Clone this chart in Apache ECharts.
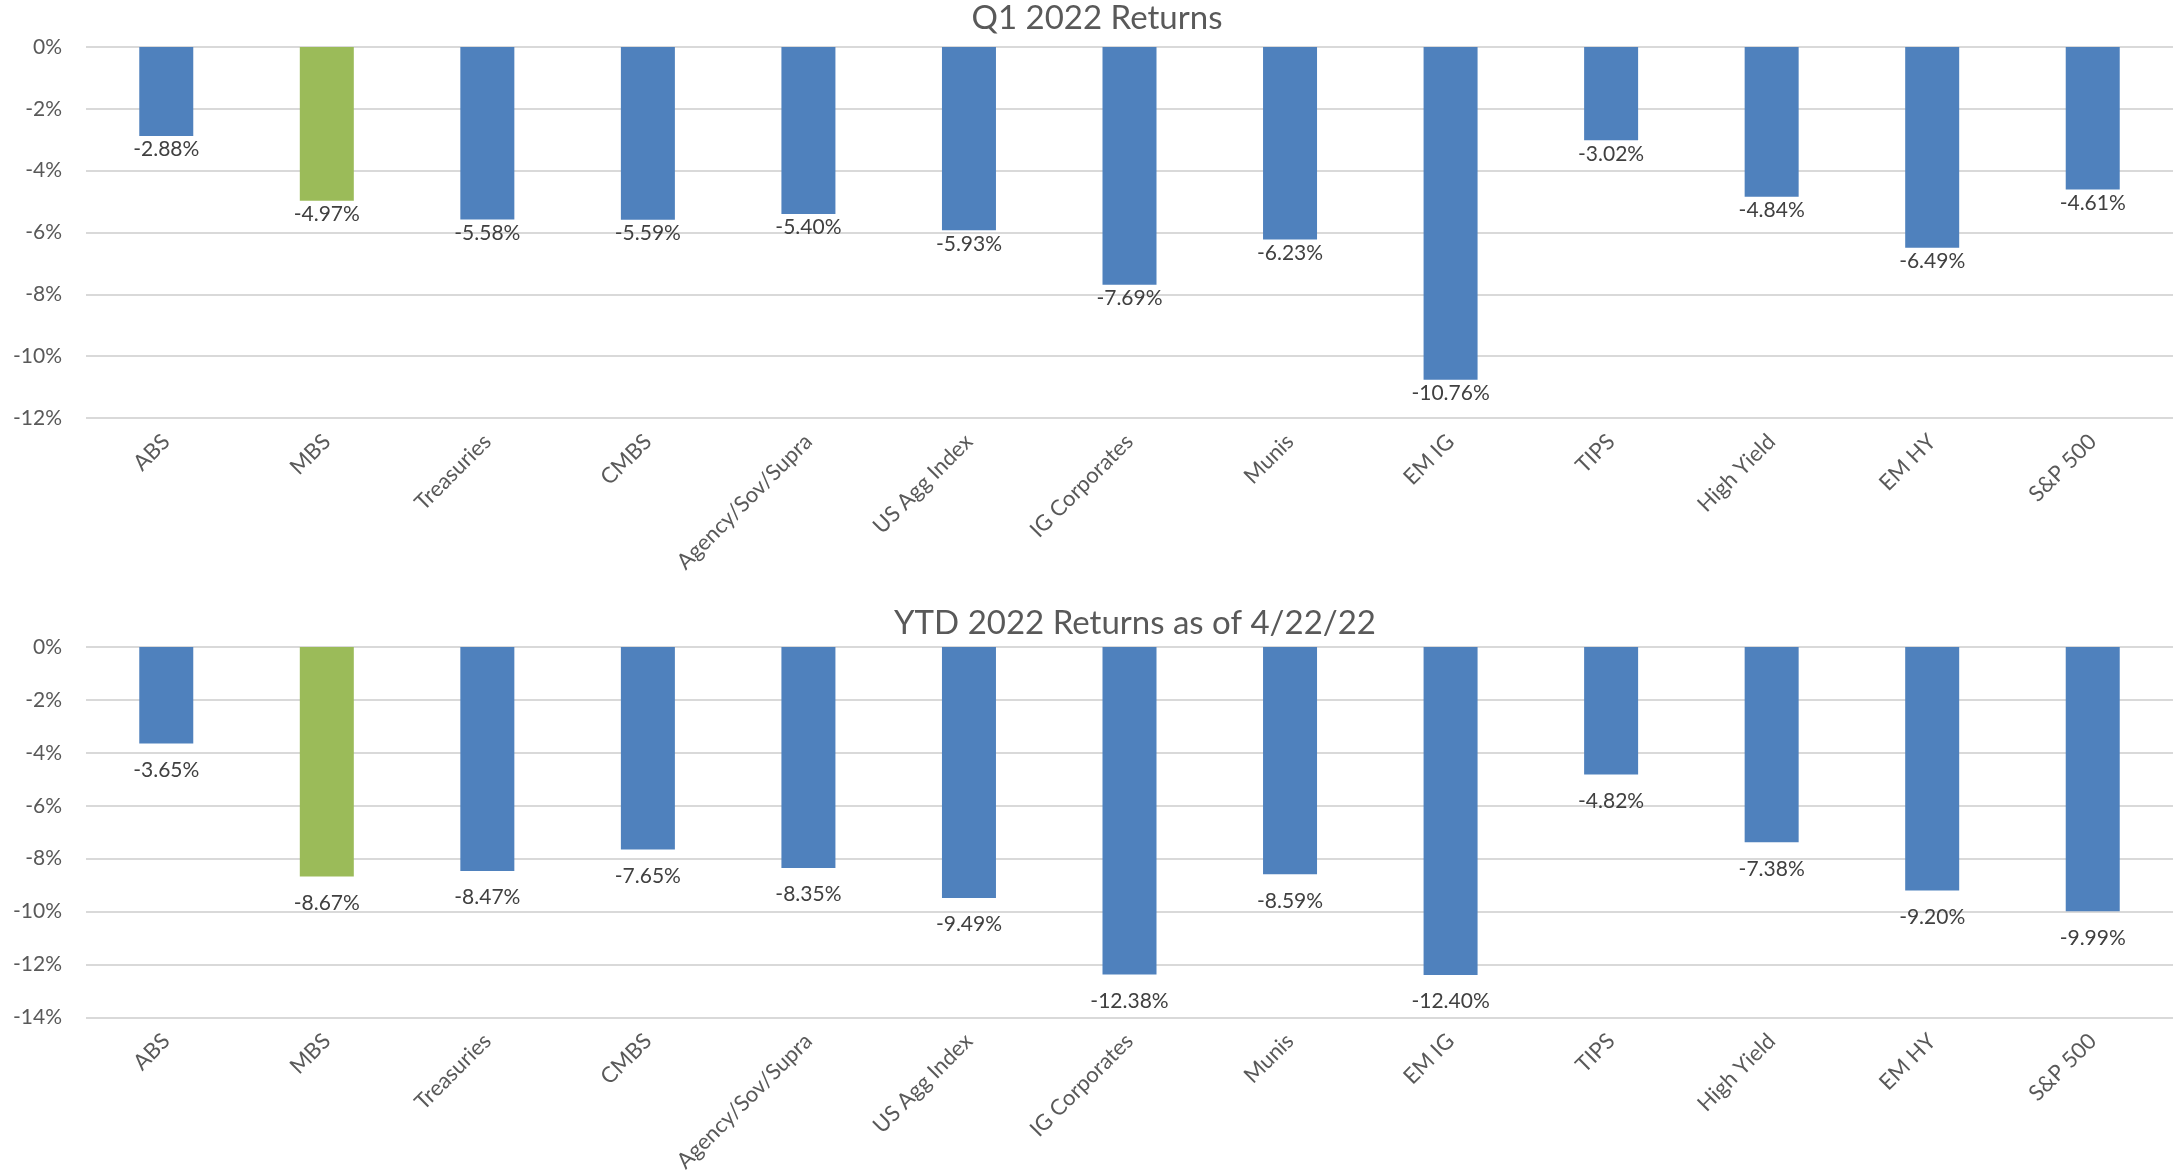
<!DOCTYPE html>
<html>
<head>
<meta charset="utf-8">
<script src="https://cdn.jsdelivr.net/npm/echarts@6/dist/echarts.min.js"></script>
<style>
  html, body { margin: 0; padding: 0; background: #fff; }
  #chart { width: 2180px; height: 1175px; }
</style>
</head>
<body>
<div id="chart"></div>
<script>
// categories shared by both panels
var categories = ['ABS', 'MBS', 'Treasuries', 'CMBS', 'Agency/Sov/Supra', 'US Agg Index',
  'IG Corporates', 'Munis', 'EM IG', 'TIPS', 'High Yield', 'EM HY', 'S&P 500'];

// Q1 2022 returns (%)
var q1Returns = [-2.88, -4.97, -5.58, -5.59, -5.40, -5.93, -7.69, -6.23, -10.76, -3.02, -4.84, -6.49, -4.61];
// YTD 2022 returns as of 4/22/22 (%)
var ytdReturns = [-3.65, -8.67, -8.47, -7.65, -8.35, -9.49, -12.38, -8.59, -12.40, -4.82, -7.38, -9.20, -9.99];

var titles = ['Q1 2022 Returns', 'YTD 2022 Returns as of 4/22/22'];
var yMins = [-12, -14];
var highlight = 'MBS';

var FONT = 'Lato';
var BLUE = '#4F81BD';
var GREEN = '#9BBB59';

function barData(vals){
    return vals.map(function(v, i){
        return {
            value: v,
            itemStyle: { color: categories[i] === highlight ? GREEN : BLUE }
        };
    });
}

function xAxisFor(idx){
    return {
        type: 'category',
        gridIndex: idx,
        data: categories,
        position: 'bottom',
        axisLine: { show: false, onZero: false },
        axisTick: { show: false },
        axisLabel: {
            interval: 0,
            rotate: 45,
            margin: 20,
            fontSize: 22,
            fontFamily: FONT,
            color: '#595959'
        },
        splitLine: { show: false }
    };
}

function yAxisFor(idx){
    return {
        type: 'value',
        gridIndex: idx,
        min: yMins[idx],
        max: 0,
        interval: 2,
        axisLine: { show: false },
        axisTick: { show: false },
        axisLabel: {
            margin: 24,
            fontSize: 21,
            fontFamily: FONT,
            color: '#595959',
            formatter: function(v){ return v + '%'; }
        },
        splitLine: { show: true, lineStyle: { color: '#D9D9D9', width: 2 } }
    };
}

function seriesFor(idx, vals, gap){
    return {
        name: titles[idx],
        type: 'bar',
        xAxisIndex: idx,
        yAxisIndex: idx,
        data: barData(vals),
        barWidth: 54,
        label: {
            show: true,
            position: 'bottom',
            distance: gap,
            fontSize: 21,
            fontFamily: FONT,
            color: '#404040',
            formatter: function(p){ return p.value.toFixed(2) + '%'; }
        }
    };
}

var chart = echarts.init(document.getElementById('chart'));
chart.setOption({
    animation: false,
    backgroundColor: '#fff',
    title: [
        {
            text: titles[0],
            left: 1097,
            top: 2,
            textAlign: 'center',
            padding: 0,
            textStyle: { fontSize: 33, fontWeight: 'normal', fontFamily: FONT, color: '#595959' }
        },
        {
            text: titles[1],
            left: 1135,
            top: 607,
            textAlign: 'center',
            padding: 0,
            textStyle: { fontSize: 33, fontWeight: 'normal', fontFamily: FONT, color: '#595959' }
        }
    ],
    grid: [
        { left: 86, right: 7, top: 47, height: 371 },
        { left: 86, right: 7, top: 647, height: 371 }
    ],
    xAxis: [xAxisFor(0), xAxisFor(1)],
    yAxis: [yAxisFor(0), yAxisFor(1)],
    series: [seriesFor(0, q1Returns, 3), seriesFor(1, ytdReturns, 16)]
});
</script>
</body>
</html>
